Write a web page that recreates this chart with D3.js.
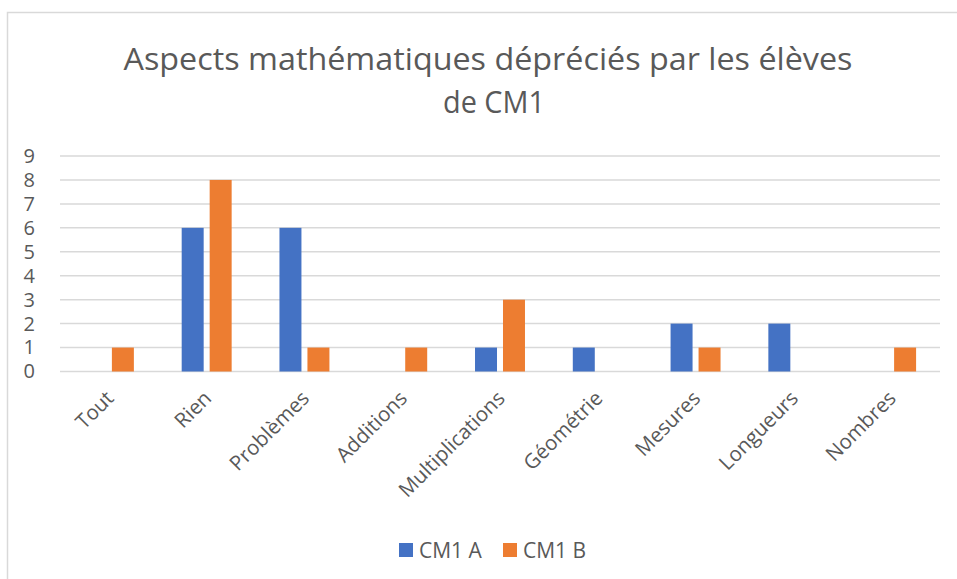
<!DOCTYPE html>
<html>
<head>
<meta charset="utf-8">
<script src="https://cdnjs.cloudflare.com/ajax/libs/d3/7.8.5/d3.min.js"></script>
<style>
  body { margin: 0; background: #fff; }
  text { font-family: "Open Sans", sans-serif; fill: #595959; }
</style>
</head>
<body>
<script>
// Data
var categories = ["Tout", "Rien", "Problèmes", "Additions", "Multiplications", "Géométrie", "Mesures", "Longueurs", "Nombres"];
var seriesNames = ["CM1 A", "CM1 B"];
var cm1A = [0, 6, 6, 0, 1, 1, 2, 2, 0];
var cm1B = [1, 8, 1, 1, 3, 0, 1, 0, 1];
var yTicks = [0, 1, 2, 3, 4, 5, 6, 7, 8, 9];
var colors = ["#4472C4", "#ED7D31"];

var svgWidth = 957;
var svgHeight = 579;

var plot = { left: 60, right: 940, top: 156, bottom: 371.5 };

var svg = d3.select("body")
    .append("svg")
    .attr("width", svgWidth)
    .attr("height", svgHeight);

// chart frame
svg.append("rect")
    .attr("x", 7.5)
    .attr("y", 12.5)
    .attr("width", 1000)
    .attr("height", 700)
    .attr("fill", "none")
    .attr("stroke", "#d9d9d9")
    .attr("stroke-width", 1.5);

// title
var title = svg.append("g");
title.append("text")
    .attr("x", 488)
    .attr("y", 70)
    .attr("text-anchor", "middle")
    .attr("font-size", 31)
    .attr("textLength", 729)
    .attr("lengthAdjust", "spacingAndGlyphs")
    .text("Aspects mathématiques dépréciés par les élèves");
title.append("text")
    .attr("x", 494)
    .attr("y", 113)
    .attr("text-anchor", "middle")
    .attr("font-size", 31)
    .attr("textLength", 102)
    .attr("lengthAdjust", "spacingAndGlyphs")
    .text("de CM1");

// scales
var yScale = d3.scaleLinear()
    .domain([0, 9])
    .range([plot.bottom, plot.top]);

var x0 = d3.scaleBand()
    .domain(categories)
    .range([plot.left, plot.right])
    .paddingInner(0.489)
    .paddingOuter(0.2445);

var x1 = d3.scaleBand()
    .domain(seriesNames)
    .range([0, x0.bandwidth()])
    .paddingInner(6 / 28);

// gridlines
svg.append("g")
    .selectAll("line")
    .data(yTicks)
    .enter()
    .append("line")
    .attr("x1", plot.left)
    .attr("x2", plot.right)
    .attr("y1", d => yScale(d))
    .attr("y2", d => yScale(d))
    .attr("stroke", "#d9d9d9")
    .attr("stroke-width", 1.5);

// y axis labels
var leftAxis = d3.axisLeft(yScale).tickValues(yTicks).tickSize(0).tickPadding(25);
var yAxisG = svg.append("g")
    .attr("transform", `translate(${plot.left},0)`)
    .call(leftAxis);
yAxisG.select(".domain").remove();
yAxisG.selectAll("text")
    .attr("font-size", 20)
    .attr("font-family", "Open Sans")
    .attr("fill", "#595959");

// bars
var rows = categories.map((c, i) => ({ cat: c, values: [cm1A[i], cm1B[i]] }));

var groups = svg.append("g")
    .selectAll("g")
    .data(rows)
    .enter()
    .append("g")
    .attr("transform", d => `translate(${x0(d.cat)},0)`);

groups.selectAll("rect")
    .data(d => d.values.map((v, j) => ({ name: seriesNames[j], value: v, j: j })))
    .enter()
    .append("rect")
    .attr("x", d => x1(d.name))
    .attr("width", x1.bandwidth())
    .attr("y", d => yScale(d.value))
    .attr("height", d => yScale(0) - yScale(d.value))
    .attr("fill", d => colors[d.j]);

// x axis labels
var bottomAxis = d3.axisBottom(x0).tickSize(0);
var xAxisG = svg.append("g")
    .attr("transform", `translate(0,${plot.bottom})`)
    .call(bottomAxis);
xAxisG.select(".domain").remove();
xAxisG.selectAll("text")
    .attr("font-size", 20.5)
    .attr("font-family", "Open Sans")
    .attr("fill", "#595959")
    .attr("x", 0)
    .attr("y", 0)
    .attr("dy", "0.35em")
    .attr("text-anchor", "end")
    .attr("transform", "translate(1,23) rotate(-45)");

// legend
var legend = svg.append("g");
var legendX = [399, 503];
seriesNames.forEach(function (name, i) {
    legend.append("rect")
        .attr("x", legendX[i])
        .attr("y", 543)
        .attr("width", 14)
        .attr("height", 14)
        .attr("fill", colors[i]);
    legend.append("text")
        .attr("x", legendX[i] + 20)
        .attr("y", 558)
        .attr("font-size", 21)
        .text(name);
});
</script>
</body>
</html>
